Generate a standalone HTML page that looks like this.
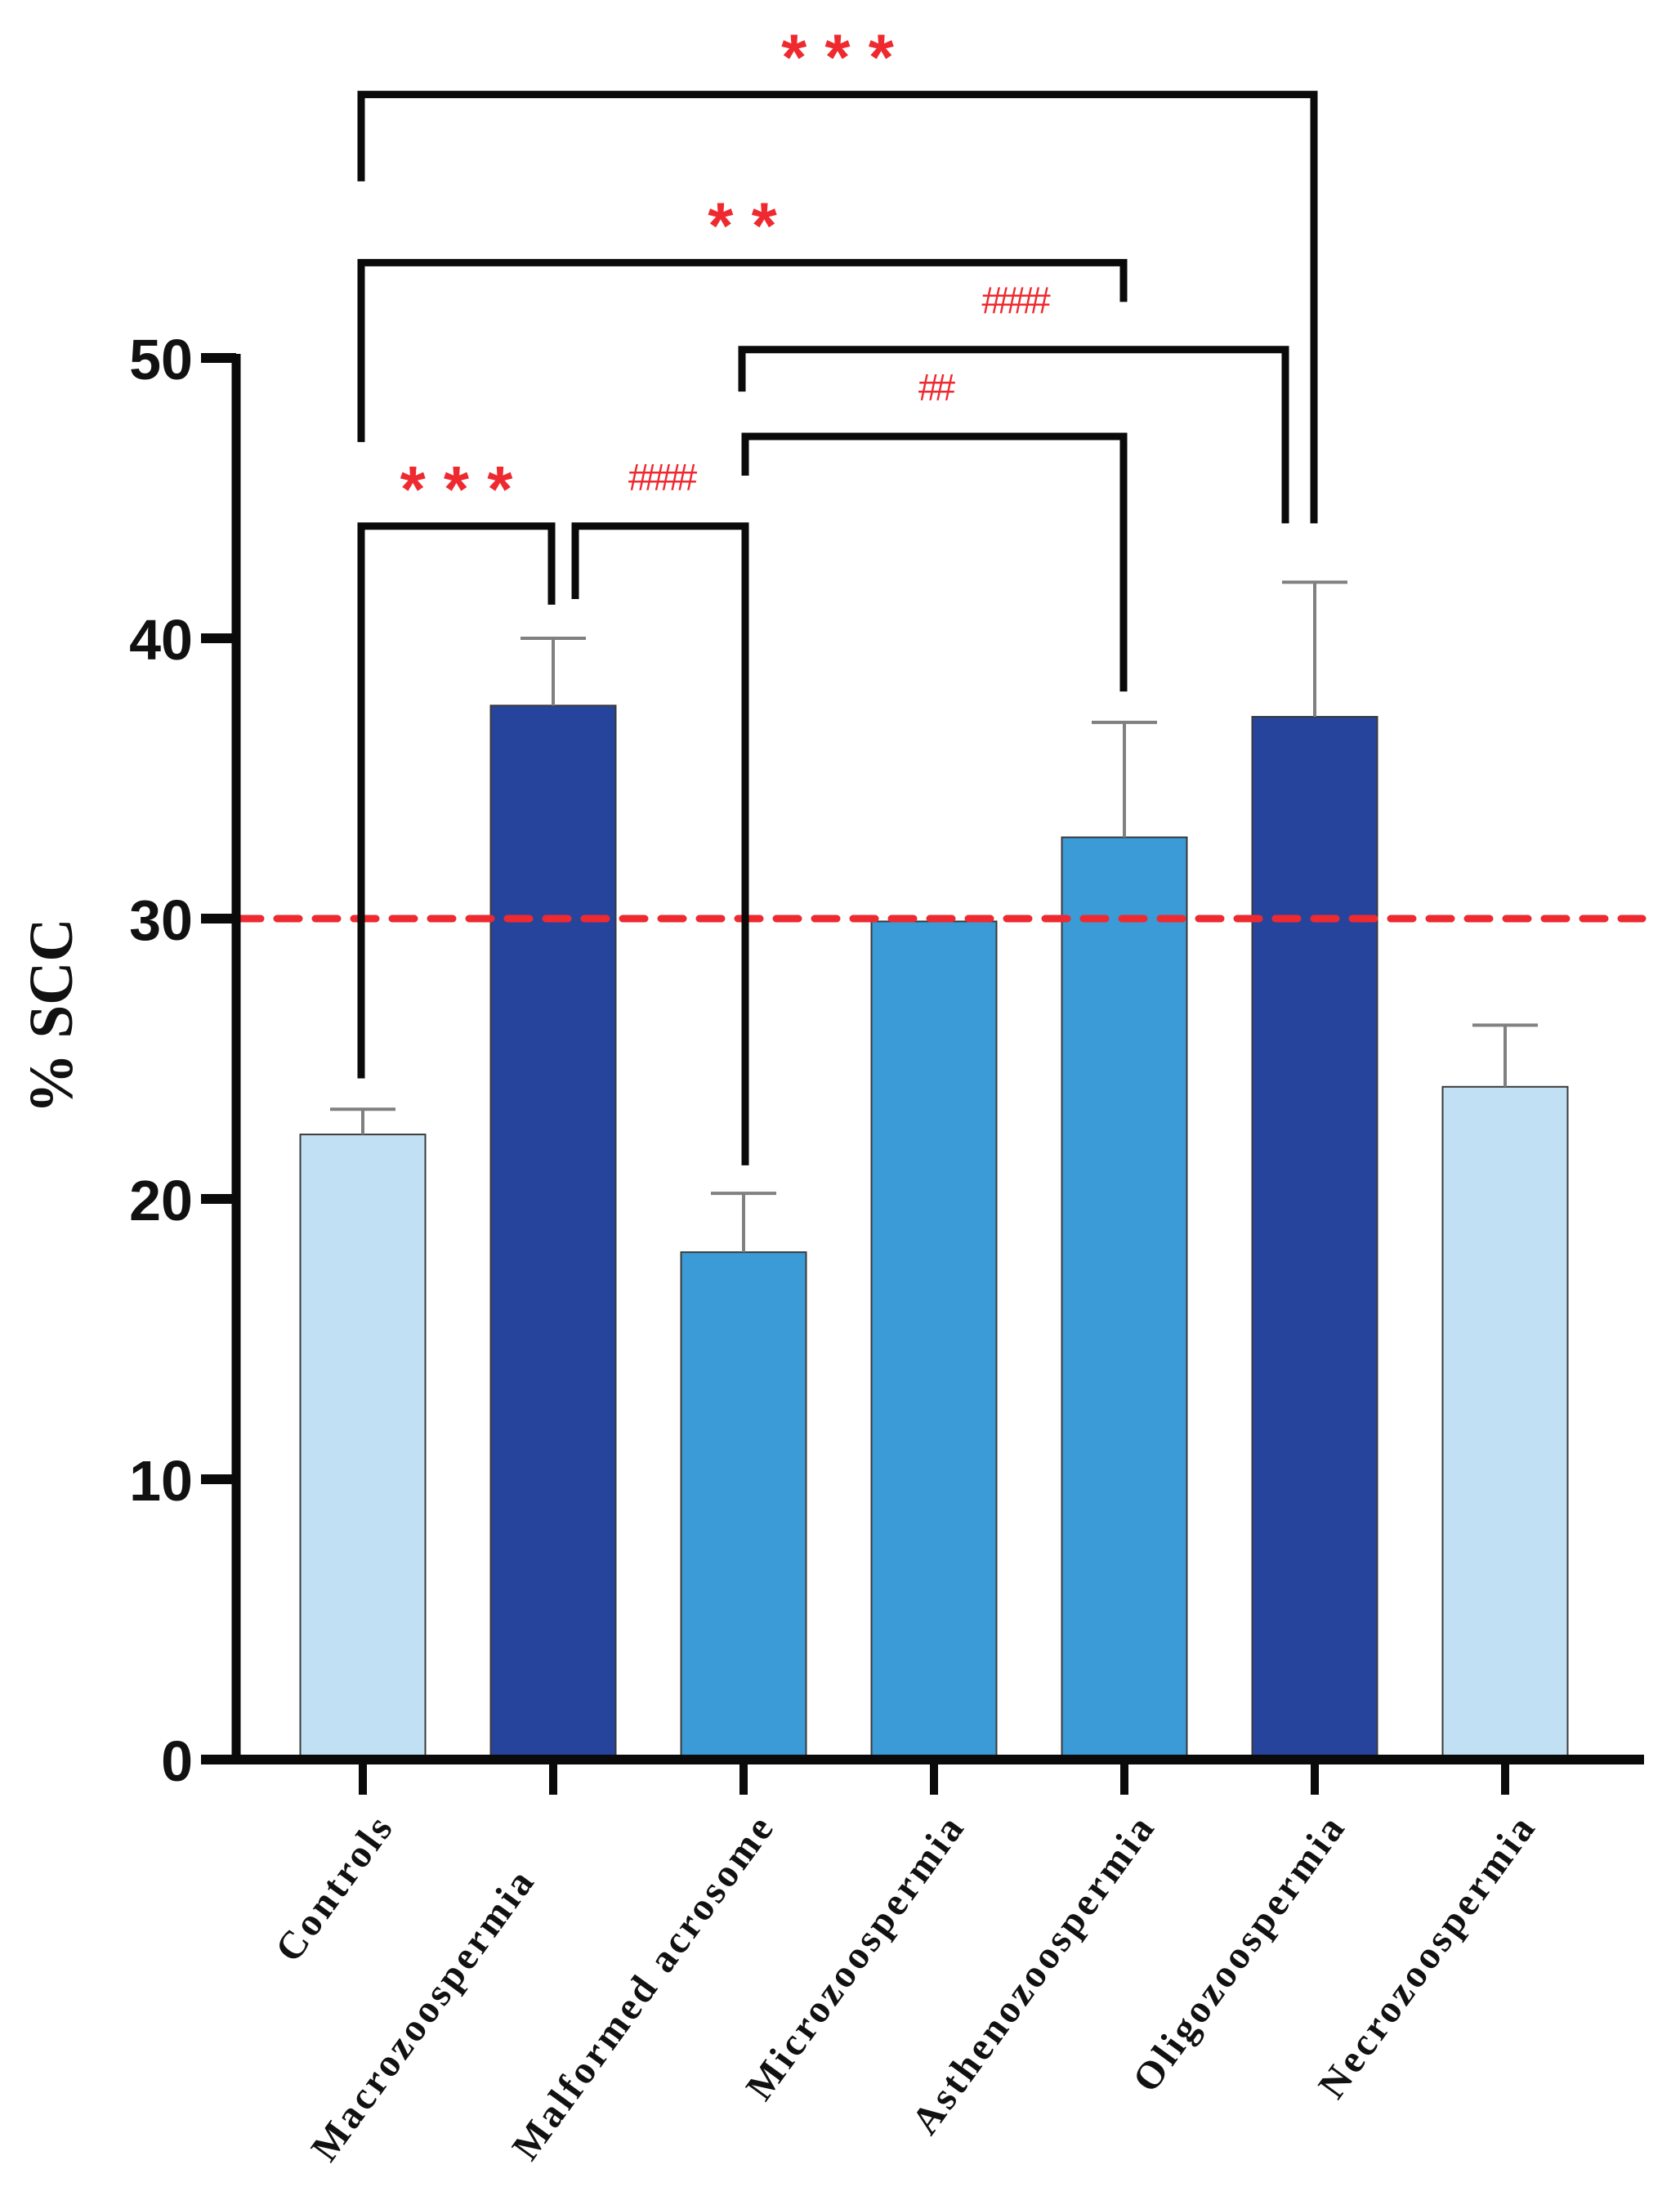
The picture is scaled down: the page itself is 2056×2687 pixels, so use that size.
<!DOCTYPE html>
<html><head><meta charset="utf-8"><style>
html,body{margin:0;padding:0;background:#fff;}
svg{display:block;}
</style></head><body>
<svg id="chart" xmlns="http://www.w3.org/2000/svg" width="2056" height="2687" viewBox="0 0 2056 2687">
<rect x="0" y="0" width="2056" height="2687" fill="#fff"/>
<g id="bars"></g>
<g id="errs"></g>
<g id="axes"></g>
<g id="sig"></g>
</svg>
<script>
const categories = ["Controls","Macrozoospermia","Malformed acrosome","Microzoospermia","Asthenozoospermia","Oligozoospermia","Necrozoospermia"];
const means = [22.3, 37.6, 18.1, 29.9, 32.9, 37.2, 24.0];
const upperErr = [23.2, 40.0, 20.2, 29.9, 37.0, 42.0, 26.2];
const colorGroup = [0, 2, 1, 1, 1, 2, 0];
const yTicks = [0, 10, 20, 30, 40, 50];
const threshold = 30;
// comparisons
const compFrom = [0, 0, 2, 2, 0, 1];
const compTo = [5, 4, 5, 4, 1, 2];
const compLevel = [59.4, 53.4, 50.3, 47.2, 44.0, 44.0];
const compFromEnd = [56.3, 47.0, 48.8, 45.8, 24.3, 41.4];
const compToEnd = [44.1, 52.0, 44.1, 38.1, 41.2, 21.2];
const compLabel = ["* * *", "* *", "####", "##", "* * *", "####"];

const NS = "http://www.w3.org/2000/svg";
const palette = ["#c2e0f4", "#3a9bd6", "#27449c"];
const y0 = 2153, pxPerUnit = 34.3;
function yS(v){ return y0 - v*pxPerUnit; }
function xS(i){ return 444 + i*233; }
const barW = 153;
// small horizontal nudges for bracket legs (px), so adjacent legs don't overlap
const fromNudge = [-2, -2, -2, 2, -2, 27];
const toNudge = [-1, -1, -36, -1, -2, 2];
function mk(tag, attrs, parent){
  const e = document.createElementNS(NS, tag);
  for (const k in attrs) e.setAttribute(k, attrs[k]);
  parent.appendChild(e); return e;
}
const gb = document.getElementById('bars'), ge = document.getElementById('errs'),
      ga = document.getElementById('axes'), gs = document.getElementById('sig');

const thr = mk('line', {x1:292, x2:2010, y1:yS(threshold), y2:yS(threshold), stroke:'#ee2a30', 'stroke-width':9, 'stroke-dasharray':'27 20', 'stroke-linecap':'round'}, ga);



categories.forEach((c, i) => {
  const r = mk('rect', {x:xS(i)-barW/2, y:yS(means[i]), width:barW, height:yS(0)-yS(means[i]), fill:palette[colorGroup[i]], stroke:'#3a3a3a', 'stroke-width':2}, gb);
  
  
  if (upperErr[i] > means[i]) {
    const g = mk('g', {stroke:'#808080', 'stroke-width':4}, ge);
    
    
    mk('line', {x1:xS(i), x2:xS(i), y1:yS(means[i]), y2:yS(upperErr[i])}, g);
    mk('line', {x1:xS(i)-40, x2:xS(i)+40, y1:yS(upperErr[i]), y2:yS(upperErr[i])}, g);
  }
  const t = mk('line', {x1:xS(i), x2:xS(i), y1:yS(0), y2:2196, stroke:'#0a0a0a', 'stroke-width':10}, ga);
  
  
  const lx = i === 1 ? xS(i) - 20 : xS(i) + 40;
  const ly = i === 1 ? 2300 : 2234;
  const tx = mk('text', {x:lx, y:ly, 'text-anchor':'end', 'font-family':'"Liberation Serif", serif', 'font-weight':'bold', 'font-size':48, 'letter-spacing':4, fill:'#111', transform:'rotate(-54 '+lx+' '+ly+')'}, ga);
  tx.textContent = c;
  
  
});

const ya = mk('line', {x1:289, x2:289, y1:yS(50)-5, y2:yS(0)+6, stroke:'#0a0a0a', 'stroke-width':11}, ga);


const xa = mk('line', {x1:246, x2:2012, y1:yS(0), y2:yS(0), stroke:'#0a0a0a', 'stroke-width':12}, ga);


yTicks.forEach(v => {
  const l = mk('line', {x1:246, x2:289, y1:yS(v), y2:yS(v), stroke:'#0a0a0a', 'stroke-width':12}, ga);
  
  
  const t = mk('text', {x:236, y:yS(v)+26, 'text-anchor':'end', 'font-family':'"Liberation Sans", sans-serif', 'font-weight':'bold', 'font-size':70, fill:'#111'}, ga);
  t.textContent = v;
  
  
});
const yt = mk('text', {x:0, y:0, 'text-anchor':'middle', 'font-family':'"Liberation Serif", serif', 'font-weight':'bold', 'font-size':76, fill:'#111', textLength:239, lengthAdjust:'spacingAndGlyphs', transform:'translate(88 1243) rotate(-90)'}, ga);
yt.textContent = '% SCC';



compFrom.forEach((f, k) => {
  const x1 = xS(f) + fromNudge[k], x2 = xS(compTo[k]) + toNudge[k];
  const yl = yS(compLevel[k]);
  const p = mk('path', {d:'M'+x1+' '+yS(compFromEnd[k])+' V'+yl+' H'+x2+' V'+yS(compToEnd[k]), fill:'none', stroke:'#0a0a0a', 'stroke-width':9, 'stroke-linejoin':'miter'}, gs);
  
  
  const isStar = compLabel[k].indexOf('*') >= 0;
  const cx = (x1 + x2) / 2;
  const t = mk('text', {x:cx, y: isStar ? yl - 18 : yl - 44, 'text-anchor':'middle', 'font-family':'"Liberation Sans", sans-serif', 'font-weight': isStar ? 'bold' : 'normal', 'font-size': isStar ? 80 : 46, 'letter-spacing': isStar ? 0 : -6, fill:'#ee2a30'}, gs);
  t.textContent = compLabel[k];
  
  
});
</script>
</body></html>
